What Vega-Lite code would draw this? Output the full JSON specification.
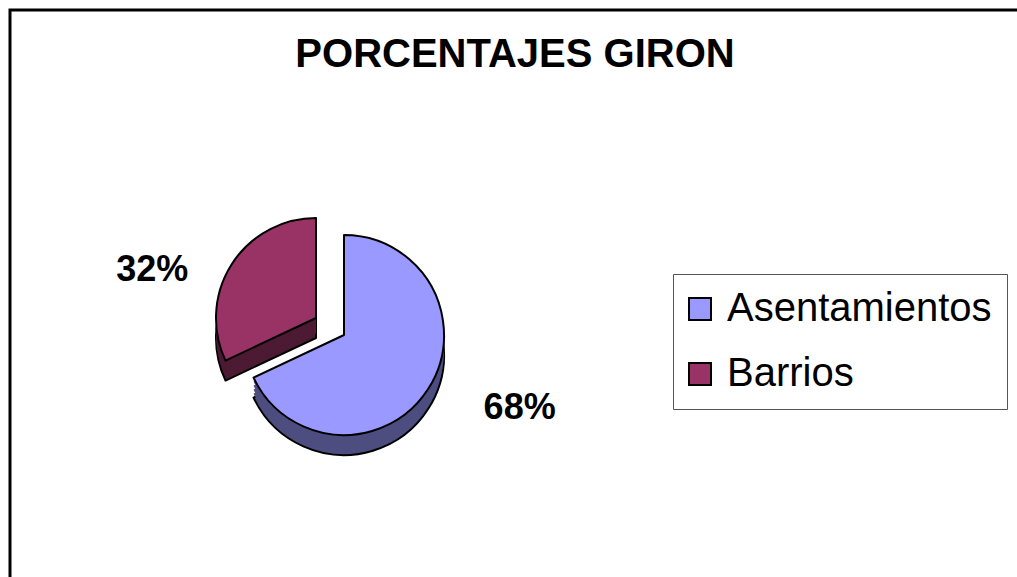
{
  "$schema": "https://vega.github.io/schema/vega-lite/v6.json",
  "width": 1010,
  "height": 600,
  "autosize": {"type": "none"},
  "padding": {"left": 10, "top": 10, "right": 0, "bottom": 0},
  "background": "white",
  "title": {
    "text": "PORCENTAJES GIRON",
    "font": "Liberation Sans",
    "fontSize": 40,
    "fontWeight": "bold",
    "color": "black",
    "anchor": "middle",
    "frame": "group",
    "baseline": "alphabetic",
    "offset": -97
  },
  "data": {
    "values": [
      {"categoria": "Asentamientos", "valor": 68, "porcentaje": 0.68},
      {"categoria": "Barrios", "valor": 32, "porcentaje": 0.32}
    ]
  },
  "layer": [
    {"mark": {"type": "point", "opacity": 0},
     "encoding": {
       "x": {"field": "valor", "type": "quantitative", "axis": null},
       "y": {"field": "valor", "type": "quantitative", "axis": null}}},
    {"layer": [
      {"mark": {"type": "arc", "radius": 100, "fill": "#4D1A33", "stroke": "black", "strokeWidth": 2, "strokeJoin": "round", "xOffset": -199, "yOffset": 28},
       "encoding": {"opacity": {"condition": {"test": "datum.categoria === 'Barrios'", "value": 1}, "value": 0}}},
      {"mark": {"type": "arc", "radius": 100, "fill": "#4D1A33", "xOffset": -199, "yOffset": 24},
       "encoding": {"opacity": {"condition": {"test": "datum.categoria === 'Barrios'", "value": 1}, "value": 0}}},
      {"mark": {"type": "arc", "radius": 100, "fill": "#4D1A33", "xOffset": -199, "yOffset": 20},
       "encoding": {"opacity": {"condition": {"test": "datum.categoria === 'Barrios'", "value": 1}, "value": 0}}},
      {"mark": {"type": "arc", "radius": 100, "fill": "#4D1A33", "xOffset": -199, "yOffset": 16},
       "encoding": {"opacity": {"condition": {"test": "datum.categoria === 'Barrios'", "value": 1}, "value": 0}}},
      {"mark": {"type": "arc", "radius": 100, "fill": "#4D1A33", "xOffset": -199, "yOffset": 12},
       "encoding": {"opacity": {"condition": {"test": "datum.categoria === 'Barrios'", "value": 1}, "value": 0}}},
      {"mark": {"type": "arc", "radius": 100, "stroke": "black", "strokeWidth": 2, "strokeJoin": "round", "xOffset": -199, "yOffset": 8},
       "encoding": {
         "color": {"field": "categoria", "type": "nominal", "scale": {"domain": ["Asentamientos", "Barrios"], "range": ["#9999FF", "#993366"]}, "legend": {"title": null}},
         "opacity": {"condition": {"test": "datum.categoria === 'Barrios'", "value": 1}, "value": 0}}},
      {"mark": {"type": "arc", "radius": 100, "fill": "#4D4D80", "stroke": "black", "strokeWidth": 2, "strokeJoin": "round", "xOffset": -171, "yOffset": 45},
       "encoding": {"opacity": {"condition": {"test": "datum.categoria === 'Asentamientos'", "value": 1}, "value": 0}}},
      {"mark": {"type": "arc", "radius": 100, "fill": "#4D4D80", "xOffset": -171, "yOffset": 41},
       "encoding": {"opacity": {"condition": {"test": "datum.categoria === 'Asentamientos'", "value": 1}, "value": 0}}},
      {"mark": {"type": "arc", "radius": 100, "fill": "#4D4D80", "xOffset": -171, "yOffset": 37},
       "encoding": {"opacity": {"condition": {"test": "datum.categoria === 'Asentamientos'", "value": 1}, "value": 0}}},
      {"mark": {"type": "arc", "radius": 100, "fill": "#4D4D80", "xOffset": -171, "yOffset": 33},
       "encoding": {"opacity": {"condition": {"test": "datum.categoria === 'Asentamientos'", "value": 1}, "value": 0}}},
      {"mark": {"type": "arc", "radius": 100, "fill": "#4D4D80", "xOffset": -171, "yOffset": 29},
       "encoding": {"opacity": {"condition": {"test": "datum.categoria === 'Asentamientos'", "value": 1}, "value": 0}}},
      {"mark": {"type": "arc", "radius": 100, "stroke": "black", "strokeWidth": 2, "strokeJoin": "round", "xOffset": -171, "yOffset": 25},
       "encoding": {
         "color": {"field": "categoria", "type": "nominal", "scale": {"domain": ["Asentamientos", "Barrios"], "range": ["#9999FF", "#993366"]}, "legend": {"title": null}},
         "opacity": {"condition": {"test": "datum.categoria === 'Asentamientos'", "value": 1}, "value": 0}}},
      {"mark": {"type": "text", "radius": 150, "font": "Liberation Sans", "fontSize": 36, "fontWeight": "bold", "fill": "black", "xOffset": -236, "yOffset": 40},
       "encoding": {
         "text": {"field": "porcentaje", "type": "quantitative", "format": ".0%"},
         "opacity": {"condition": {"test": "datum.categoria === 'Barrios'", "value": 1}, "value": 0}}},
      {"mark": {"type": "text", "radius": 150, "font": "Liberation Sans", "fontSize": 36, "fontWeight": "bold", "fill": "black", "xOffset": -122, "yOffset": 18},
       "encoding": {
         "text": {"field": "porcentaje", "type": "quantitative", "format": ".0%"},
         "opacity": {"condition": {"test": "datum.categoria === 'Asentamientos'", "value": 1}, "value": 0}}}
    ],
    "encoding": {
      "theta": {"field": "valor", "type": "quantitative", "stack": true},
      "order": {"field": "categoria", "sort": "ascending"}
    }}
  ],
  "config": {
    "view": {"stroke": "black", "strokeWidth": 3},
    "legend": {
      "orient": "none",
      "legendX": 663,
      "legendY": 264,
      "symbolType": "square",
      "symbolSize": 484,
      "symbolStrokeColor": "black",
      "symbolStrokeWidth": 2,
      "symbolOpacity": 1,
      "symbolOffset": -8,
      "labelFont": "Liberation Sans",
      "labelFontSize": 40,
      "labelColor": "black",
      "labelOffset": 7,
      "labelLimit": 500,
      "rowPadding": 25,
      "padding": 15,
      "strokeColor": "#555555",
      "strokeWidth": 1
    }
  }
}
